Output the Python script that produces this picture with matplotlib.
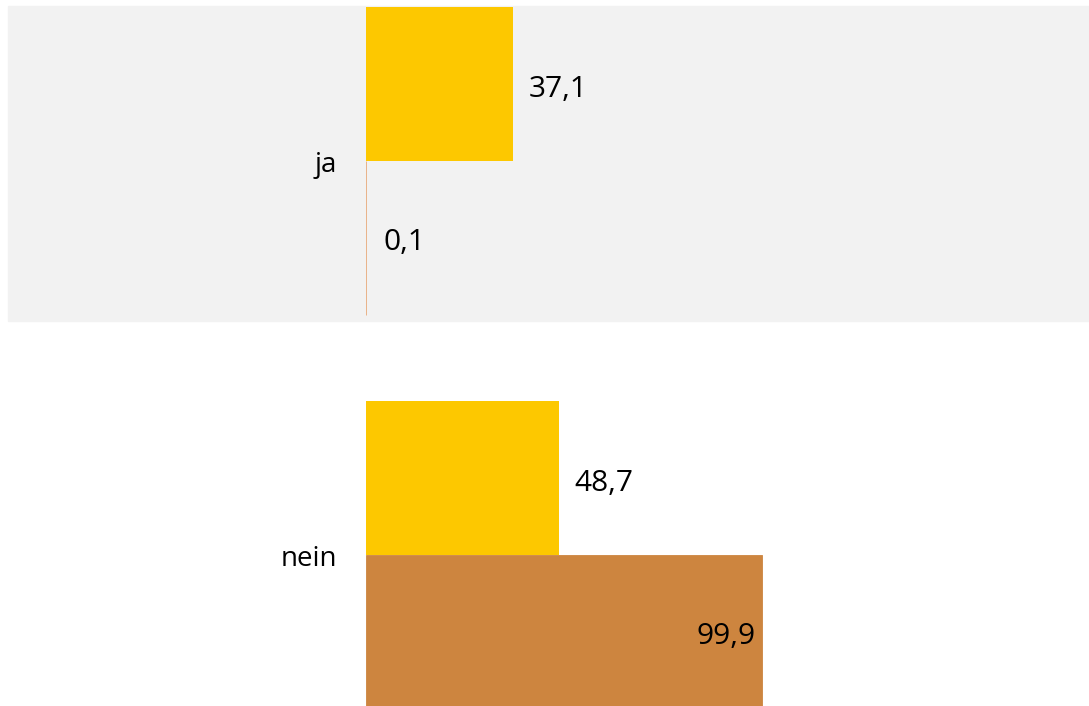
import numpy as np
import matplotlib.pyplot as plt

# Data
categories = ["ja", "nein"]
series_yellow = [37.1, 48.7]
series_brown = [0.1, 99.9]
labels_yellow = ["37,1", "48,7"]
labels_brown = ["0,1", "99,9"]

plt.rcParams["font.family"] = ["Open Sans", "DejaVu Sans"]

fig = plt.figure(figsize=(10.89, 7.06), dpi=100)
ax = fig.add_axes([366 / 1089, 0, 1 - 366 / 1089, 1])

y = np.arange(len(categories))
h = 0.39

# Gray band behind the first category, stretching over the label area
ax.axhspan(-0.395, 0.405, xmin=(8 - 366) / (1089 - 366), xmax=1,
           color="#f2f2f2", zorder=0, clip_on=False)

bars_y = ax.barh(y - h / 2, series_yellow, height=h, color="#fdc800", zorder=2)
bars_b = ax.barh(y + h / 2, series_brown, height=h, color="#cd853f",
                 edgecolor="#e8a878", linewidth=0.6, zorder=2)
bars_b[1].set_edgecolor("#cd853f")

# Value labels
lbl = []
lbl += ax.bar_label(bars_y, labels=labels_yellow, padding=11, fontsize=21.5)
lbl += ax.bar_label(bars_b, labels=[labels_brown[0], ""], padding=12,
                    fontsize=21.5)
lbl += ax.bar_label(bars_b, labels=["", labels_brown[1]], padding=-47.5,
                    fontsize=21.5)
for t in lbl:
    xo, yo = t.xyann
    t.xyann = (xo, yo - 3.5)

ax.set_xlim(0, (1089 - 366) / 3.965)
ax.set_ylim(1.383, -0.409)
ax.set_yticks(y)
ax.set_yticklabels(categories, fontsize=20)
ax.tick_params(axis="y", length=0, pad=21)
ax.set_xticks([])
for s in ax.spines.values():
    s.set_visible(False)
ax.patch.set_alpha(0)

plt.savefig("out.png", dpi=100)
